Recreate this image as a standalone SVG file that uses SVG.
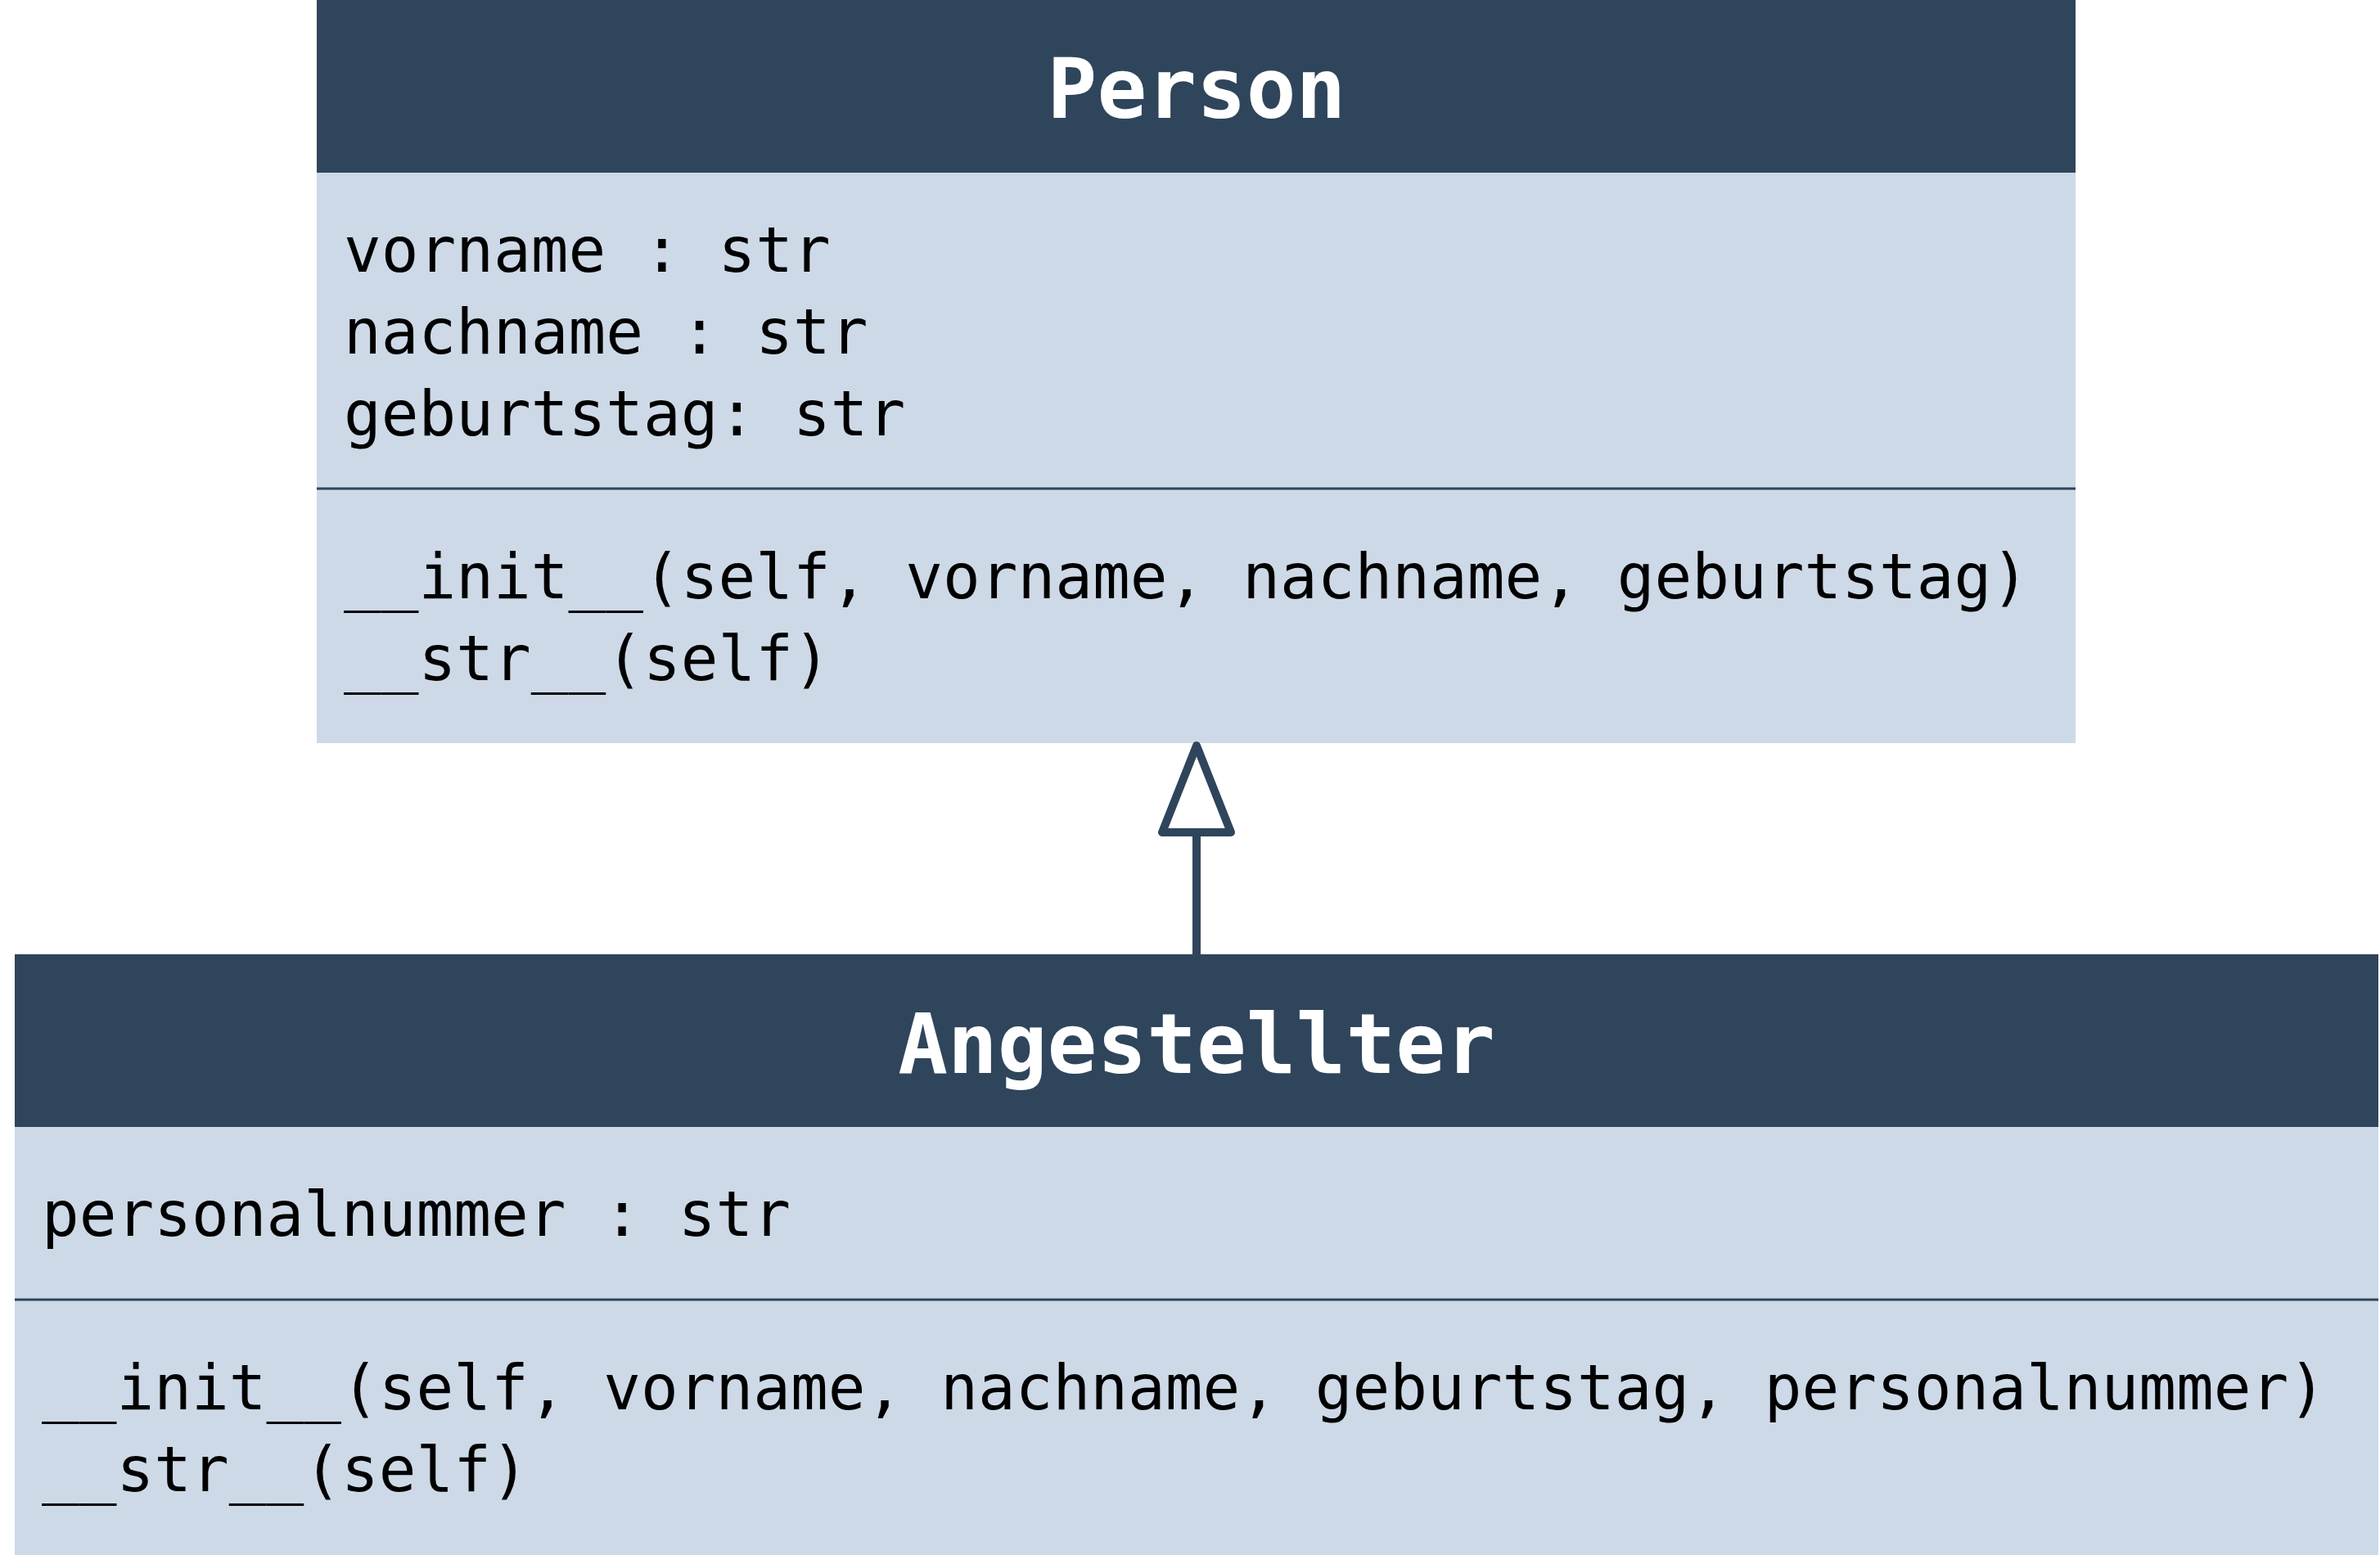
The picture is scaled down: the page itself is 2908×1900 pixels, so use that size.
<svg xmlns="http://www.w3.org/2000/svg" width="2908" height="1900" viewBox="0 0 2908 1900">
<style>
.hdr{fill:#2F455C}
.body{fill:#CDD9E7}
.div{stroke:#2F455C;stroke-width:3}
.title{font-family:"DejaVu Sans Mono","Liberation Mono",monospace;font-weight:bold;font-size:101px;fill:#FFFFFF;text-anchor:middle}
.txt{font-family:"DejaVu Sans Mono","Liberation Mono",monospace;font-size:76px;fill:#000000}
.conn{stroke:#2F455C;stroke-width:10;stroke-linejoin:round;stroke-linecap:butt}
</style>
<rect width="2908" height="1900" fill="#FFFFFF"/>
<g id="person">
<rect class="body" x="387" y="0" width="2149" height="908"/>
<rect class="hdr" x="387" y="0" width="2149" height="211"/>
<text class="title" x="1462" y="144">Person</text>
<text class="txt" x="420" y="332">vorname : str</text>
<text class="txt" x="420" y="432">nachname : str</text>
<text class="txt" x="420" y="532">geburtstag: str</text>
<line class="div" x1="387" y1="597" x2="2536" y2="597"/>
<text class="txt" x="420" y="731">__init__(self, vorname, nachname, geburtstag)</text>
<text class="txt" x="420" y="831">__str__(self)</text>
</g>
<g id="angestellter">
<rect class="body" x="18" y="1166" width="2888" height="734"/>
<rect class="hdr" x="18" y="1166" width="2888" height="211"/>
<text class="title" x="1462" y="1311">Angestellter</text>
<text class="txt" x="51" y="1510">personalnummer : str</text>
<line class="div" x1="18" y1="1588" x2="2906" y2="1588"/>
<text class="txt" x="51" y="1722">__init__(self, vorname, nachname, geburtstag, personalnummer)</text>
<text class="txt" x="51" y="1822">__str__(self)</text>
</g>
<g id="connectors">
<line class="conn" x1="1462" y1="1017" x2="1462" y2="1166"/>
<polygon class="conn" points="1462,911 1420,1017 1504,1017" fill="#FFFFFF"/>
</g>
</svg>
